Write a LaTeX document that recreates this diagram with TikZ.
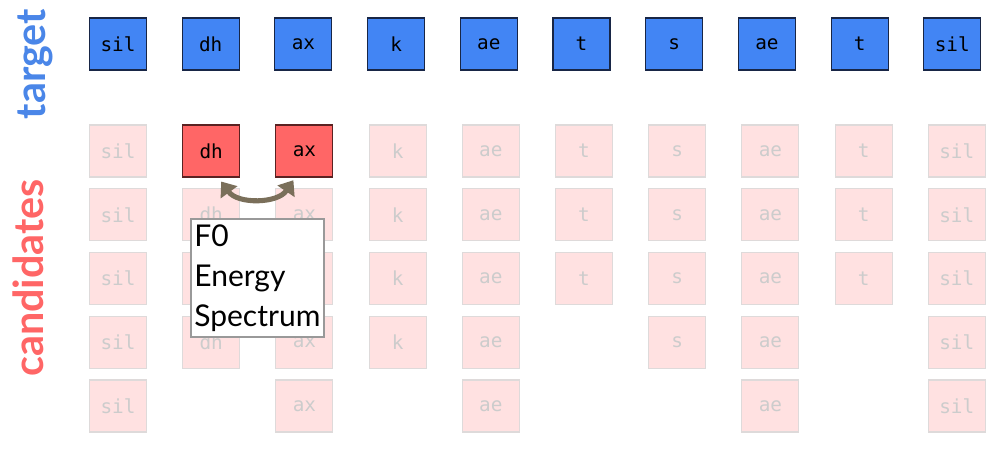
\documentclass[tikz,border=0pt]{standalone}
\usepackage{fontspec}
\setmainfont{Lato}
\newfontfamily\phonefont{DejaVu Sans Mono}
\usetikzlibrary{arrows.meta,positioning}
\definecolor{tgtblue}{RGB}{66,133,244}
\definecolor{tgtedge}{RGB}{24,38,70}
\definecolor{pickred}{RGB}{255,102,102}
\definecolor{pickedge}{RGB}{90,34,34}
\definecolor{fadefill}{RGB}{255,225,225}
\definecolor{fadeedge}{RGB}{222,218,218}
\definecolor{fadetext}{RGB}{204,204,204}
\definecolor{swapcol}{RGB}{122,111,90}
\definecolor{tgtlabel}{RGB}{74,134,232}
\definecolor{candlabel}{RGB}{255,102,102}
\tikzset{
	phone/.style = {draw, minimum width = 42.75pt, minimum height = 39pt, inner sep = 0mm, line width = 0.8pt,
		font = \phonefont\fontsize{14.5}{16}\selectfont},
	target phone/.style = {phone, fill = tgtblue, draw = tgtedge},
	chosen phone/.style = {phone, fill = pickred, draw = pickedge},
	faded phone/.style = {phone, fill = fadefill, draw = fadeedge, text = fadetext},
	side label/.style = {rotate = 90, anchor = base, inner sep = 0mm, font = \bfseries\fontsize{31}{36}\selectfont},
	swap/.style = {{Triangle[width = 15pt, length = 10pt]}-{Triangle[width = 15pt, length = 10pt]}, line width = 3.8pt, color = swapcol},
	info box/.style = {draw = gray!80, fill = white, line width = 1.5pt, align = left, inner xsep = 2.5pt, inner ysep = 4pt,
		font = \fontsize{22.5}{30}\selectfont}
}
\begin{document}
\begin{tikzpicture}[x = 0.75pt, y = -0.75pt]
	\useasboundingbox (0, 0) rectangle (1005, 465);

	\node [side label, text = tgtlabel] (tgt) at (45, 64) {target};
	\node [side label, text = candlabel] (cand) at (43, 278) {candidates};

	% target row, candidates below
	\foreach \name/\n [count = \i] in {sil/5, dh/4, ax/5, k/4, ae/5, t/3, s/4, ae/5, t/3, sil/5}{
		\node [target phone] (t\i) at ({118 + (\i - 1) * 92.7}, 44) {\name};
		\foreach \r in {1,...,\n}{
			\def\kind{faded phone}
			\ifnum\r=1 \ifnum\i>1 \ifnum\i<4
				\def\kind{chosen phone}
			\fi\fi\fi
			\node [\kind] (c\i-\r) at ({118 + (\i - 1) * 93.2}, {151 + (\r - 1) * 63.75}) {\name};
		}
	}

	\draw [swap] ([xshift = 7.5pt, yshift = -3pt]c2-1.south) to [bend right = 55] ([xshift = -8.25pt, yshift = -2pt]c3-1.south);

	\node [info box, anchor = north west] (feat) at (190, 218) {F0\\Energy\\Spectrum};
\end{tikzpicture}
\end{document}
